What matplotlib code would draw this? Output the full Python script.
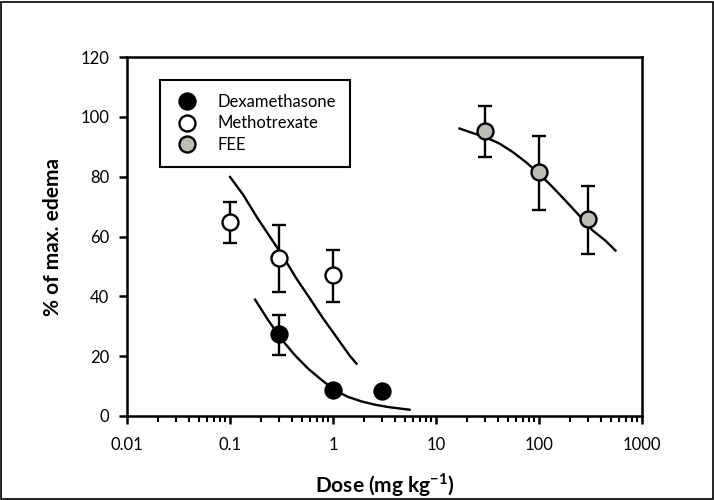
import matplotlib
matplotlib.use("Agg")
import matplotlib.pyplot as plt
from matplotlib.patches import Rectangle
from matplotlib.ticker import LogLocator, NullFormatter, FixedLocator, FixedFormatter

plt.rcParams['font.family'] = ['Lato', 'DejaVu Sans']
plt.rcParams['mathtext.fontset'] = 'custom'
plt.rcParams['mathtext.rm'] = 'Lato'
plt.rcParams['mathtext.bf'] = 'Lato:bold'

# measured points (dose, mean, lower, upper)
dex_dose = [0.3, 1, 3]
dex_mean = [27.3, 8.8, 8.5]
dex_low = [20.5, 8.8, 8.5]
dex_high = [33.7, 8.8, 8.5]

mtx_dose = [0.1, 0.3, 1]
mtx_mean = [64.9, 52.8, 47.1]
mtx_low = [57.7, 41.3, 38.1]
mtx_high = [71.6, 63.8, 55.6]

fee_dose = [30, 100, 300]
fee_mean = [95.3, 81.4, 65.7]
fee_low = [86.6, 69.0, 54.1]
fee_high = [103.7, 93.6, 76.9]

# fitted curves
dex_fit_x = [0.175, 0.235, 0.317, 0.427, 0.574, 0.772, 1.04, 1.40, 1.88, 2.54, 3.42, 5.54]
dex_fit_y = [38.9, 32.0, 25.6, 20.3, 15.8, 12.1, 8.6, 6.4, 4.9, 3.8, 3.0, 2.1]

mtx_fit_x = [0.100, 0.135, 0.181, 0.244, 0.329, 0.442, 0.596, 0.802, 1.08, 1.45, 1.69]
mtx_fit_y = [79.9, 73.8, 66.6, 59.9, 53.2, 45.9, 39.3, 32.6, 26.4, 20.2, 17.5]

fee_fit_x = [16.9, 22.7, 30.6, 41.2, 55.4, 74.5, 100.4, 135, 182, 245, 330, 443, 554]
fee_fit_y = [96.1, 94.6, 93.1, 91.1, 88.3, 84.9, 81.0, 76.6, 71.9, 67.1, 62.1, 58.6, 55.3]

x_ticks = [0.01, 0.1, 1, 10, 100, 1000]
x_tick_labels = ["0.01", "0.1", "1", "10", "100", "1000"]
y_ticks = [0, 20, 40, 60, 80, 100, 120]

fig = plt.figure(figsize=(7.14, 5.0), dpi=100)
ax = fig.add_axes([0.178, 0.168, 0.721, 0.718])

ax.plot(dex_fit_x, dex_fit_y, color="black", lw=1.7, zorder=2)
ax.plot(mtx_fit_x, mtx_fit_y, color="black", lw=1.7, zorder=2)
ax.plot(fee_fit_x, fee_fit_y, color="black", lw=1.7, zorder=2)

series = [
    ("Dexamethasone", dex_dose, dex_mean, dex_low, dex_high, "black"),
    ("Methotrexate", mtx_dose, mtx_mean, mtx_low, mtx_high, "white"),
    ("FEE", fee_dose, fee_mean, fee_low, fee_high, "#bdbdb3"),
]
for name, xs, ys, lo, hi, fc in series:
    yerr = [[m - l for m, l in zip(ys, lo)], [h - m for m, h in zip(ys, hi)]]
    ax.errorbar(xs, ys, yerr=yerr, fmt="none", ecolor="black", elinewidth=1.7,
                capsize=5, capthick=1.7, zorder=3)
    ax.plot(xs, ys, "o", ms=11.5, mfc=fc, mec="black", mew=1.7, label=name,
            linestyle="none", zorder=4)

ax.set_xscale("log")
ax.set_xlim(0.01, 1000)
ax.set_ylim(0, 120)
ax.xaxis.set_major_locator(FixedLocator(x_ticks))
ax.xaxis.set_major_formatter(FixedFormatter(x_tick_labels))
ax.xaxis.set_minor_locator(LogLocator(base=10, subs=range(2, 10), numticks=20))
ax.xaxis.set_minor_formatter(NullFormatter())
ax.set_yticks(y_ticks)

for s in ax.spines.values():
    s.set_linewidth(1.8)
ax.tick_params(which="major", direction="out", length=6, width=1.8,
               labelsize=12, pad=9)
ax.tick_params(which="minor", direction="out", length=4, width=1.5)
ax.tick_params(axis="y", pad=7)

ax.set_xlabel(r"Dose (mg kg$^{\mathbf{-1}}$)", fontsize=15, fontweight="bold", labelpad=13)
ax.set_ylabel("% of max. edema", fontsize=15, fontweight="bold", labelpad=12)

leg = ax.legend(loc="upper left", bbox_to_anchor=(0.063, 0.936), frameon=True,
                fancybox=False, edgecolor="black", framealpha=1, fontsize=12,
                borderpad=0.85, handletextpad=1.0, labelspacing=0.32,
                borderaxespad=0, handlelength=1.6)
leg.get_frame().set_linewidth(1.5)

fig.patches.append(Rectangle((0.001, 0.002), 0.997, 0.995, transform=fig.transFigure,
                             fill=False, edgecolor="black", lw=1.2))

fig.savefig("out.png", dpi=100)
